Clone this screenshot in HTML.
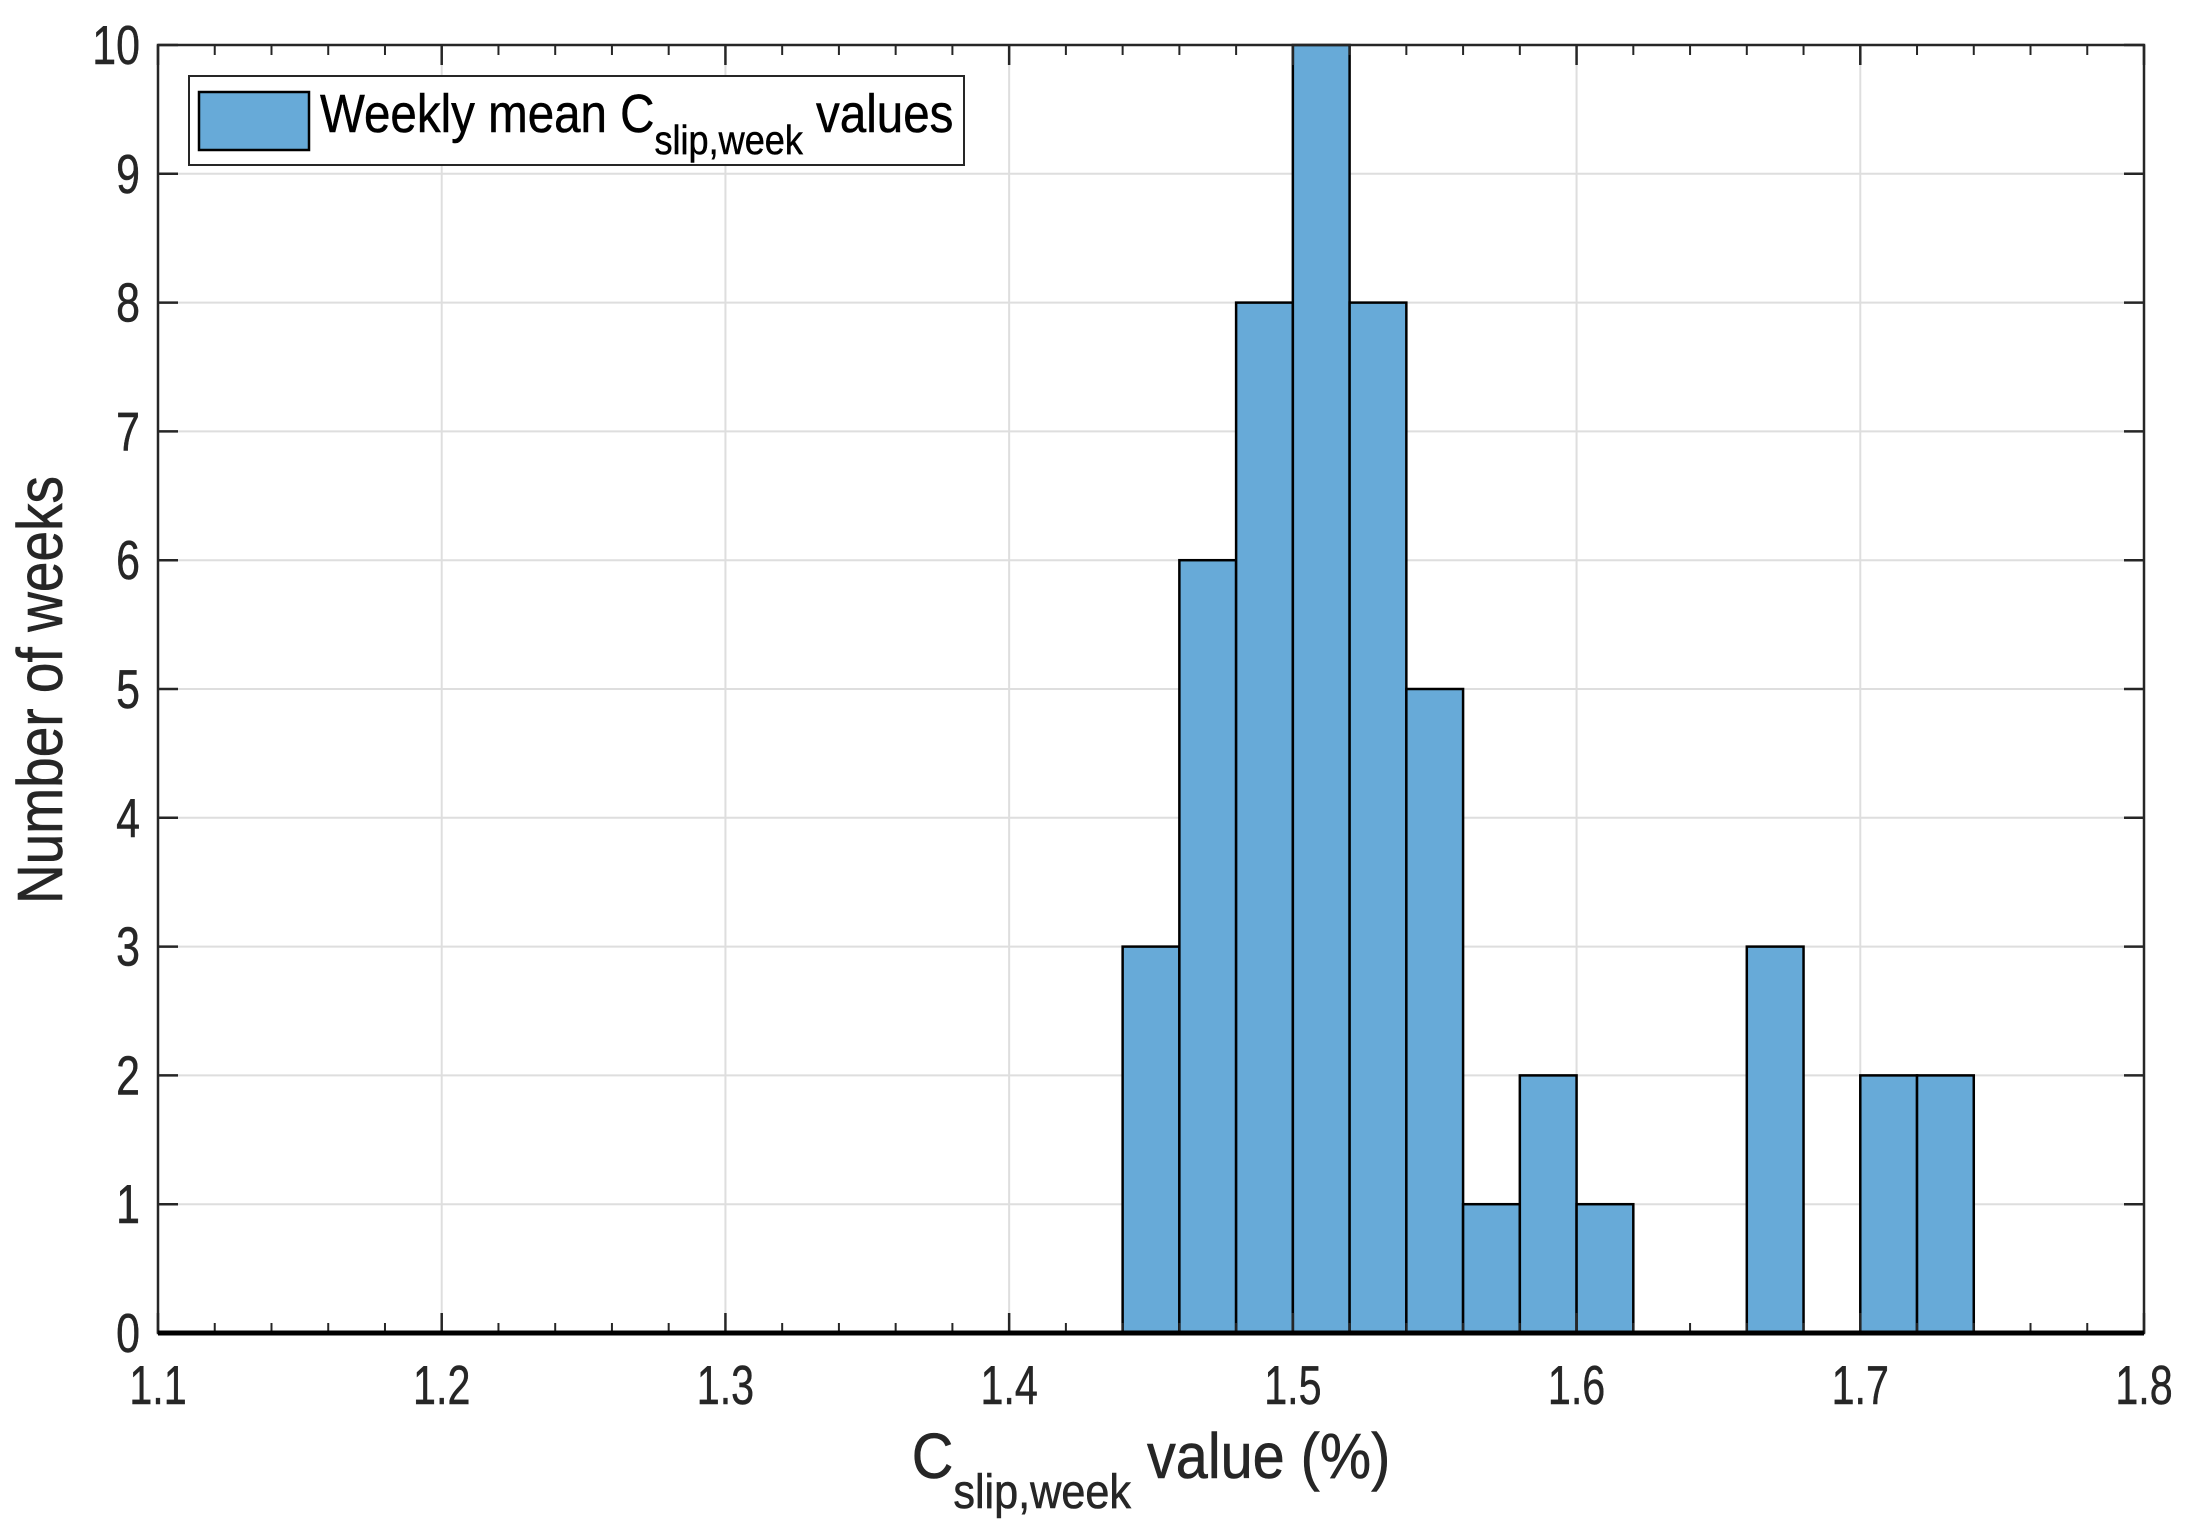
<!DOCTYPE html>
<html><head><meta charset="utf-8"><style>
html,body{margin:0;padding:0;background:#fff}
svg{display:block;font-family:"Liberation Sans",Arial,sans-serif}
</style></head><body>
<svg id="chart" width="2194" height="1535" viewBox="0 0 2194 1535" xmlns="http://www.w3.org/2000/svg">
<g id="grid"></g>
<g id="bars"></g>
<g id="axes"></g>
<text transform="translate(40 690) rotate(-90) scale(0.86 1)" x="0" y="0" text-anchor="middle" dominant-baseline="central" font-size="64" fill="#262626" stroke="#262626" stroke-width="0.6">Number of weeks</text>
<text transform="translate(1151 1478) scale(0.9 1)" x="0" y="0" text-anchor="middle" font-size="64" fill="#262626" stroke="#262626" stroke-width="0.6">C<tspan font-size="48" dy="30">slip,week</tspan><tspan dy="-30"> value (%)</tspan></text>
<g>
<rect x="189" y="76" width="775" height="89" fill="#fff" stroke="#262626" stroke-width="2"/>
<rect x="199" y="92" width="110" height="58" fill="#67aad8" stroke="#000" stroke-width="2.5"/>
<text transform="translate(320 132) scale(0.88 1)" x="0" y="0" font-size="54" fill="#000" stroke="#000" stroke-width="0.5">Weekly mean C<tspan font-size="41" dy="22">slip,week</tspan><tspan dy="-22"> values</tspan></text>
</g>
</svg>
<script>
const binStarts = [1.44,1.46,1.48,1.50,1.52,1.54,1.56,1.58,1.60,1.62,1.64,1.66,1.68,1.70,1.72];
const counts = [3,6,8,10,8,5,1,2,1,0,0,3,0,2,2];
const binWidth = 0.02;
const xTicks = ["1.1","1.2","1.3","1.4","1.5","1.6","1.7","1.8"];
const yTicks = ["0","1","2","3","4","5","6","7","8","9","10"];
const L=158,R=2144,T=45,B=1333,xmin=1.1,xmax=1.8,ymin=0,ymax=10;
const X=v=>L+(v-xmin)/(xmax-xmin)*(R-L);
const Y=v=>B-(v-ymin)/(ymax-ymin)*(B-T);
const NS="http://www.w3.org/2000/svg";
function mk(tag,attrs,parent){const e=document.createElementNS(NS,tag);for(const k in attrs)e.setAttribute(k,attrs[k]);parent.appendChild(e);return e;}
const grid=document.getElementById('grid'),bars=document.getElementById('bars'),axes=document.getElementById('axes');
xTicks.forEach(t=>{const x=X(+t);
 const g=mk('line',{x1:x,x2:x,y1:T,y2:B,stroke:'#dedede','stroke-width':2},grid);
 
 
 const a=mk('line',{x1:x,x2:x,y1:B,y2:B-20,stroke:'#262626','stroke-width':2.5},axes);
 
 
 const b=mk('line',{x1:x,x2:x,y1:T,y2:T+20,stroke:'#262626','stroke-width':2.5},axes);
 
 
 const tx=mk('text',{x:0,y:0,transform:`translate(${x} 1404) scale(0.75 1)`,'text-anchor':'middle','font-size':55,fill:'#262626',stroke:'#262626','stroke-width':0.5},axes);tx.textContent=t;
 
 
});
for(let i=0;i<=35;i++){const v=xmin+i*0.02;if(i%5===0)continue;const x=X(v);
 const a=mk('line',{x1:x,x2:x,y1:B,y2:B-10,stroke:'#262626','stroke-width':2},axes);
 
 
 const b=mk('line',{x1:x,x2:x,y1:T,y2:T+10,stroke:'#262626','stroke-width':2},axes);
 
 
}
yTicks.forEach(t=>{const y=Y(+t);
 const g=mk('line',{x1:L,x2:R,y1:y,y2:y,stroke:'#dedede','stroke-width':2},grid);
 
 
 const a=mk('line',{x1:L,x2:L+20,y1:y,y2:y,stroke:'#262626','stroke-width':2.5},axes);
 
 
 const b=mk('line',{x1:R,x2:R-20,y1:y,y2:y,stroke:'#262626','stroke-width':2.5},axes);
 
 
 const tx=mk('text',{x:0,y:0,transform:`translate(140 ${y+19}) scale(0.78 1)`,'text-anchor':'end','font-size':55,fill:'#262626',stroke:'#262626','stroke-width':0.5},axes);tx.textContent=t;
 
 
});
binStarts.forEach((s,i)=>{if(!counts[i])return;
 const x0=X(s),x1=X(s+binWidth),y=Y(counts[i]);
 const r=mk('rect',{x:x0,y:y,width:x1-x0,height:B-y,fill:'#67aad8',stroke:'#000','stroke-width':2.5},bars);
 
 
});
const box=mk('rect',{x:L,y:T,width:R-L,height:B-T,fill:'none',stroke:'#262626','stroke-width':2.5},axes);


const base=mk('line',{x1:L,x2:R,y1:B,y2:B,stroke:'#000','stroke-width':5},axes);


</script>
</body></html>
